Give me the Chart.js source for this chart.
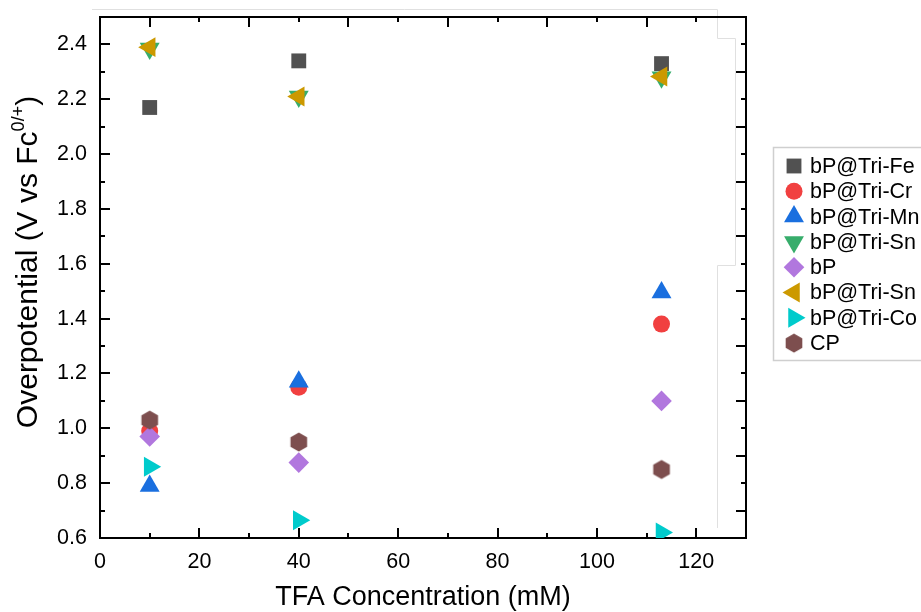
<!DOCTYPE html>
<html><head><meta charset="utf-8">
<script src="https://cdn.jsdelivr.net/npm/chart.js@4.4.1/dist/chart.umd.min.js"></script>
<style>html,body{margin:0;padding:0;background:#fff;overflow:hidden}#wrap{width:921px;height:612px;position:relative}</style>
</head><body><div id="wrap"><canvas id="c" width="921" height="612"></canvas></div>
<script>
// ---- data ----
const xValues = [10, 40, 113];
const seriesNames = ['bP@Tri-Fe', 'bP@Tri-Cr', 'bP@Tri-Mn', 'bP@Tri-Sn', 'bP', 'bP@Tri-Sn', 'bP@Tri-Co', 'CP'];
const feValues = [2.17, 2.34, 2.33];
const crValues = [0.99, 1.15, 1.38];
const mnValues = [0.79, 1.17, 1.495];
const snDownValues = [2.385, 2.21, 2.28];
const bpValues = [0.97, 0.875, 1.10];
const snLeftValues = [2.39, 2.21, 2.283];
const coValues = [0.86, 0.665, 0.62];
const cpValues = [1.03, 0.95, 0.85];
const xTickValues = [0, 20, 40, 60, 80, 100, 120];
const yTickValues = [0.6, 0.8, 1.0, 1.2, 1.4, 1.6, 1.8, 2.0, 2.2, 2.4];

// ---- styles ----
const FONT = "'Liberation Sans', Arial, Helvetica, sans-serif";
function hexagonCanvas(color, r) {
  const c = document.createElement('canvas');
  const s = Math.ceil(r * 2) + 2;
  c.width = s; c.height = s;
  const g = c.getContext('2d');
  g.fillStyle = color;
  g.beginPath();
  for (let k = 0; k < 6; k++) {
    const a = -Math.PI / 2 + k * Math.PI / 3;
    const px = s / 2 + r * Math.cos(a), py = s / 2 + r * Math.sin(a);
    if (k === 0) g.moveTo(px, py); else g.lineTo(px, py);
  }
  g.closePath(); g.fill();
  return c;
}
const seriesValues = [feValues, crValues, mnValues, snDownValues, bpValues, snLeftValues, coValues, cpValues];
const seriesStyles = [
  {color: '#515151', style: 'rect', rot: 0, r: 10.5},
  {color: '#F14040', style: 'circle', rot: 0, r: 8.5},
  {color: '#1A6FDF', style: 'triangle', rot: 0, r: 11.5},
  {color: '#37AD6B', style: 'triangle', rot: 180, r: 11.5},
  {color: '#B177DE', style: 'rectRot', rot: 0, r: 10.3},
  {color: '#CC9900', style: 'triangle', rot: 270, r: 11.5},
  {color: '#00CBCC', style: 'triangle', rot: 90, r: 11.5},
  {color: '#7D4E4E', style: hexagonCanvas('#7D4E4E', 9.6), rot: 0, r: 9.6}
];

const datasets = seriesNames.map((name, i) => ({
  label: name,
  data: xValues.map((x, j) => ({x: x, y: seriesValues[i][j]})),
  pointStyle: seriesStyles[i].style,
  pointRotation: seriesStyles[i].rot,
  pointRadius: seriesStyles[i].r,
  pointHoverRadius: seriesStyles[i].r,
  backgroundColor: seriesStyles[i].color,
  borderColor: seriesStyles[i].color,
  pointBorderWidth: 0,
  borderWidth: 0,
  showLine: false,
  order: seriesNames.length - i
}));

function line(ctx, x1, y1, x2, y2) { ctx.beginPath(); ctx.moveTo(x1, y1); ctx.lineTo(x2, y2); ctx.stroke(); }

const framePlugin = {
  id: 'frame',
  beforeDatasetsDraw(chart) {
    const {ctx, chartArea: {left, right, top, bottom}, scales: {x, y}} = chart;
    ctx.save();
    // faint artifact lines
    ctx.strokeStyle = '#e0e0e0'; ctx.lineWidth = 1;
    ctx.beginPath();
    ctx.moveTo(92, 9.5); ctx.lineTo(717.5, 9.5); ctx.lineTo(717.5, 38.5); ctx.lineTo(735.5, 38.5); ctx.lineTo(735.5, 265.5);
    ctx.lineTo(717.5, 265.5); ctx.lineTo(717.5, 528);
    ctx.stroke();
    ctx.strokeStyle = '#000'; ctx.lineWidth = 2;
    line(ctx, left - 1, top, right + 1, top);
    line(ctx, right, top, right, bottom + 1);
    for (let k = 6; k <= 25; k++) {
      const py = Math.round(y.getPixelForValue(k / 10));
      line(ctx, left, py, left + (k % 2 === 0 ? 10 : 5), py);
      line(ctx, right, py, right - (k % 2 === 1 ? 10 : 5), py);
    }
    for (let k = 0; k <= 13; k++) {
      const px = Math.round(x.getPixelForValue(k * 10));
      line(ctx, px, bottom, px, bottom - (k % 2 === 0 ? 10 : 5));
      line(ctx, px, top, px, top + (k % 2 === 1 ? 10 : 5));
    }
    ctx.restore();
  },
  afterDraw(chart) {
    const {ctx} = chart;
    ctx.save();
    // y-axis title with superscript
    const size = 30;
    const main = 'Overpotential (V vs Fc', sup = '0/+', end = ')';
    ctx.fillStyle = '#000';
    ctx.font = size + 'px ' + FONT;
    const w1 = ctx.measureText(main).width, w3 = ctx.measureText(end).width;
    ctx.font = Math.round(size * 0.6) + 'px ' + FONT;
    const w2 = ctx.measureText(sup).width;
    const total = w1 + w2 + w3;
    ctx.translate(37, 262);
    ctx.rotate(-Math.PI / 2);
    ctx.textBaseline = 'alphabetic';
    ctx.textAlign = 'left';
    let sx = -total / 2;
    ctx.font = size + 'px ' + FONT;
    ctx.fillText(main, sx, 0); sx += w1;
    ctx.font = Math.round(size * 0.6) + 'px ' + FONT;
    ctx.fillText(sup, sx, -size * 0.42); sx += w2;
    ctx.font = size + 'px ' + FONT;
    ctx.fillText(end, sx, 0);
    ctx.restore();

    // legend
    ctx.save();
    ctx.strokeStyle = '#cfcfcf'; ctx.lineWidth = 1.5;
    ctx.strokeRect(773.5, 147.5, 200, 213);
    ctx.font = '21.5px ' + FONT;
    ctx.textBaseline = 'middle';
    ctx.textAlign = 'left';
    chart.data.datasets.forEach((ds, i) => {
      const cy = 166 + i * 25.3;
      ctx.fillStyle = ds.backgroundColor;
      Chart.helpers.drawPoint(ctx, {pointStyle: ds.pointStyle, rotation: ds.pointRotation, radius: ds.pointRadius, borderWidth: 0}, 794, cy);
      ctx.fillStyle = '#000';
      ctx.fillText(ds.label, 810, cy + 1);
    });
    ctx.restore();
  }
};

Chart.defaults.font.family = FONT;
Chart.defaults.color = '#000';

new Chart(document.getElementById('c'), {
  type: 'scatter',
  data: {datasets: datasets},
  options: {
    responsive: false,
    animation: false,
    devicePixelRatio: 1,
    events: [],
    layout: {padding: {top: 17, right: 175, bottom: 0, left: 0}},
    plugins: {legend: {display: false}, tooltip: {enabled: false}},
    scales: {
      x: {
        type: 'linear', position: 'bottom', min: 0, max: 130,
        grid: {display: false},
        border: {display: true, color: '#000', width: 2},
        afterBuildTicks: (s) => { s.ticks = xTickValues.map(v => ({value: v})); },
        afterFit: (s) => { s.height = 74; s.paddingLeft = 0; s.paddingRight = 0; },
        ticks: {font: {size: 21.5}, color: '#000', padding: 3, maxRotation: 0, autoSkip: false},
        title: {display: true, text: 'TFA Concentration (mM)', font: {size: 27, lineHeight: 1}, color: '#000', padding: {top: 0, bottom: 1}}
      },
      y: {
        type: 'linear', position: 'left', min: 0.6, max: 2.5,
        grid: {display: false},
        border: {display: true, color: '#000', width: 2},
        afterBuildTicks: (s) => { s.ticks = yTickValues.map(v => ({value: v})); },
        afterFit: (s) => { s.width = 100; s.paddingTop = 0; s.paddingBottom = 0; },
        ticks: {font: {size: 21.5}, color: '#000', padding: 5, autoSkip: false, callback: (v) => Number(v).toFixed(1)}
      }
    }
  },
  plugins: [framePlugin]
});
</script>
</body></html>
